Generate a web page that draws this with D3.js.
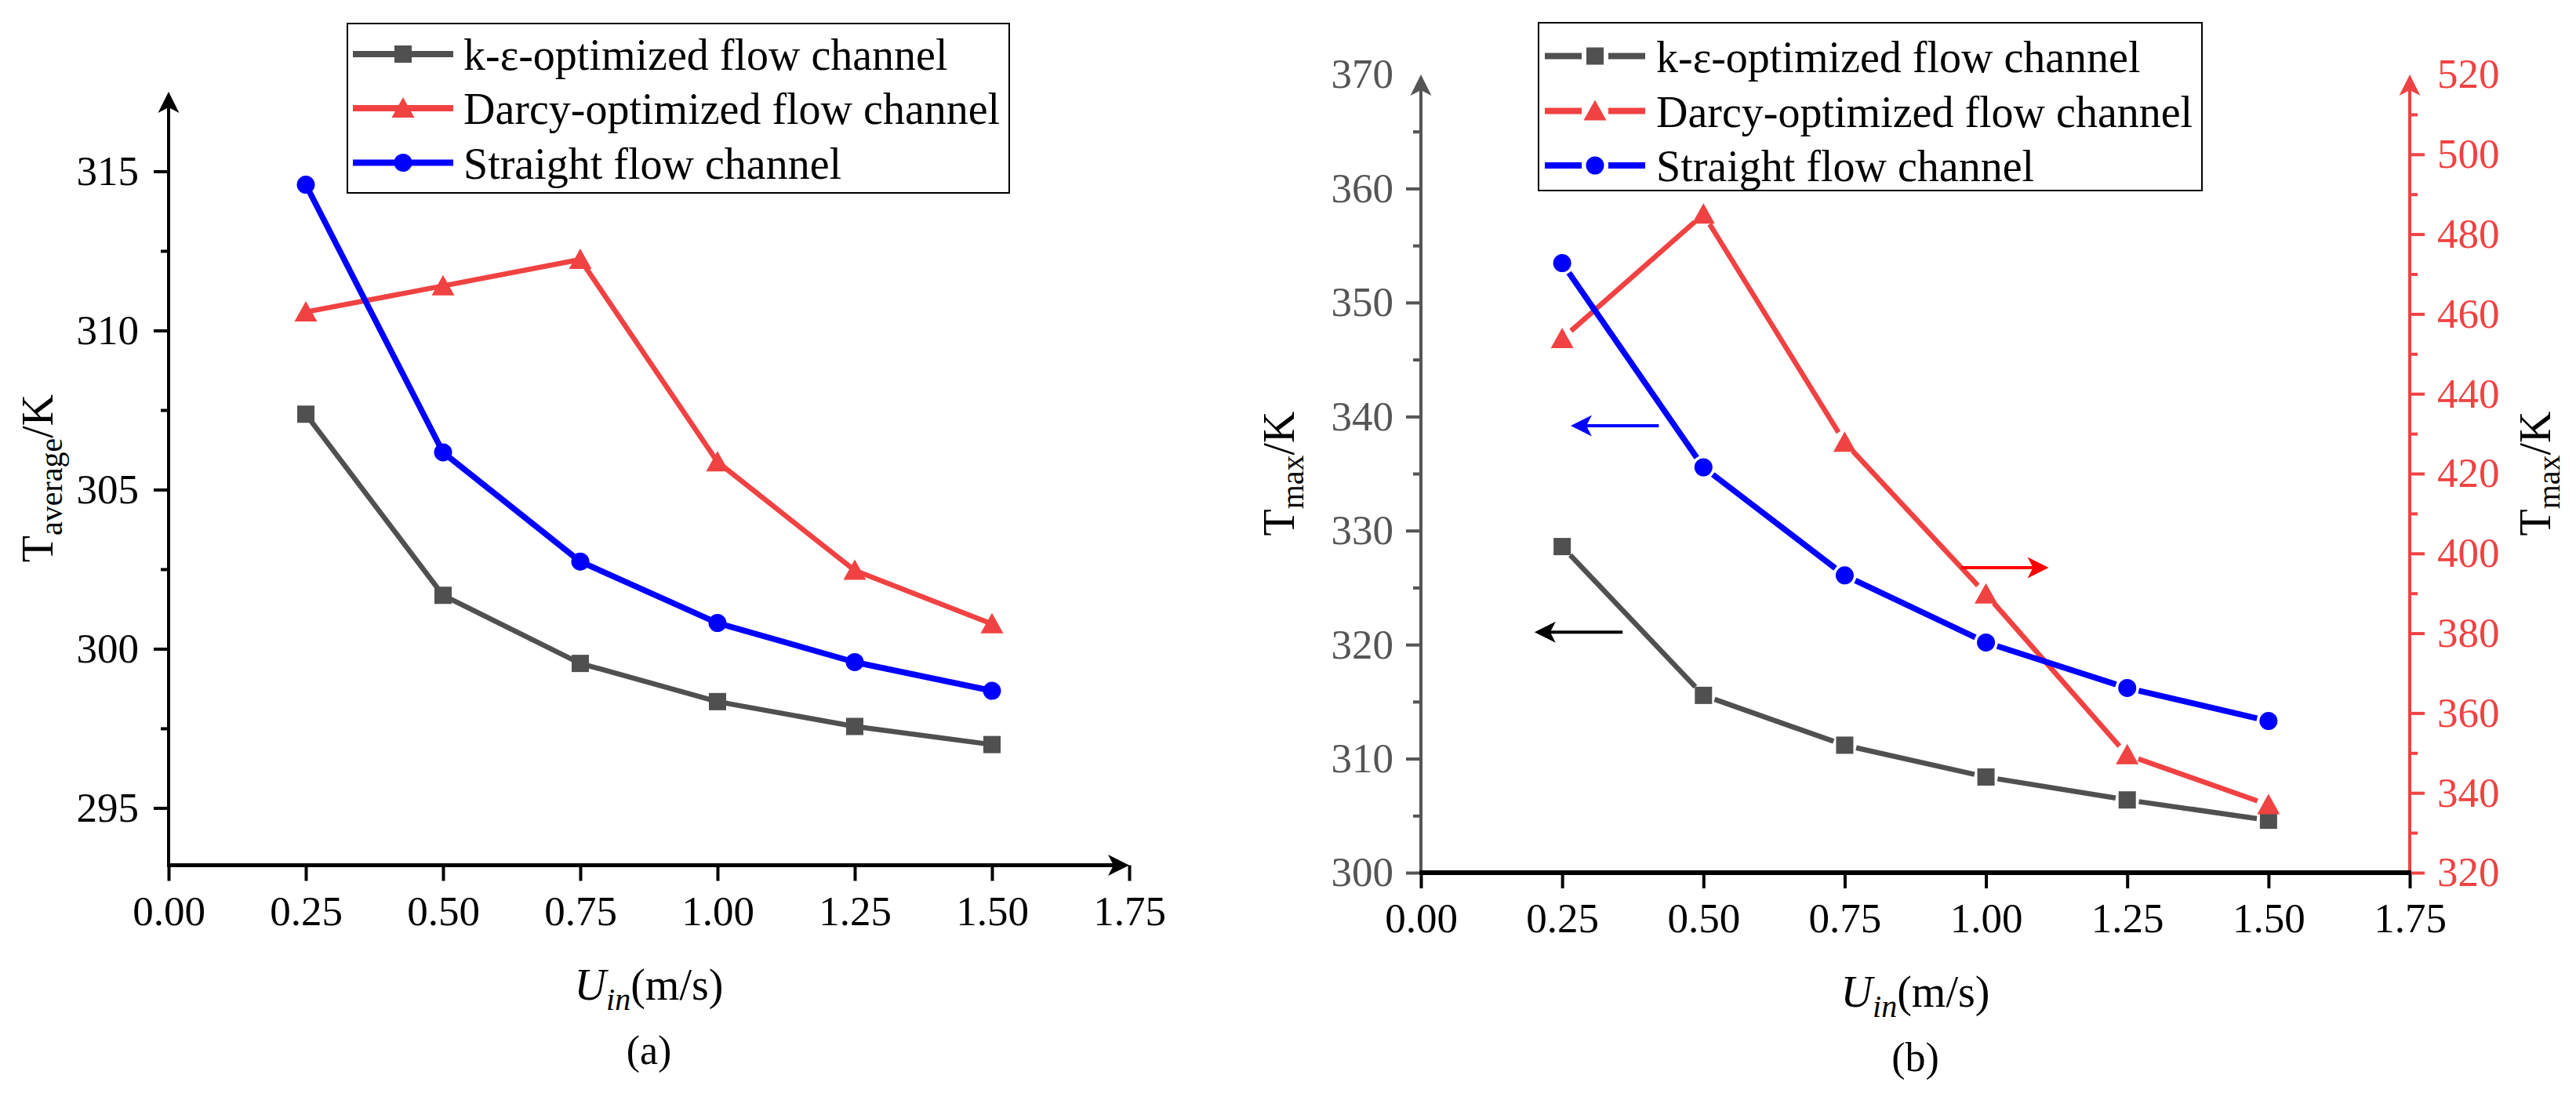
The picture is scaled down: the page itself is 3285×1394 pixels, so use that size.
<!DOCTYPE html>
<html>
<head>
<meta charset="utf-8">
<script src="https://cdn.jsdelivr.net/npm/d3@7"></script>
<style>
  body { margin: 0; background: #fff; }
  svg { display: block; }
  text { font-family: "Liberation Serif", "Times New Roman", serif; }
</style>
</head>
<body>
<div id="chart"></div>
<script>
// inlet velocity (m/s)
const uIn = [0.25, 0.5, 0.75, 1.0, 1.25, 1.5];

// (a) average temperature, K
const avgKe       = [307.37, 301.68, 299.54, 298.34, 297.56, 296.99];
const avgDarcy    = [310.58, 311.40, 312.23, 305.87, 302.46, 300.78];
const avgStraight = [314.58, 306.17, 302.74, 300.81, 299.58, 298.68];

// (b) maximum temperature, K (Darcy on the right axis)
const maxKe       = [328.6, 315.55, 311.18, 308.39, 306.38, 304.6];
const maxDarcy    = [453.8, 485.0, 427.8, 389.8, 349.5, 337.0];
const maxStraight = [353.46, 335.55, 326.07, 320.19, 316.2, 313.3];

const seriesNames = ["k-\u03b5-optimized flow channel", "Darcy-optimized flow channel", "Straight flow channel"];

const xTicks = [0, 0.25, 0.5, 0.75, 1.0, 1.25, 1.5, 1.75];
const avgTicks = [295, 300, 305, 310, 315];
const avgMinor = [297.5, 302.5, 307.5, 312.5];
const maxLeftTicks = [300, 310, 320, 330, 340, 350, 360, 370];
const maxLeftMinor = [305, 315, 325, 335, 345, 355, 365];
const maxRightTicks = [320, 340, 360, 380, 400, 420, 440, 460, 480, 500, 520];
const maxRightMinor = [330, 350, 370, 390, 410, 430, 450, 470, 490, 510];

// pointer arrows in panel (b): [x tail, x tip, y value]
const arrowLeftBlue  = [0.421, 0.265, 339.2];
const arrowLeftBlack = [0.357, 0.201, 321.1];
const arrowRightRed  = [0.956, 1.111, 396.4];

const W = 3285, H = 1394;
const gray = "#505050", red = "#F04242", blue = "#0000FF";
const tickFont = 53, legFont = 56;

const svg = d3.select("#chart").append("svg")
  .attr("width", W).attr("height", H);
svg.append("rect").attr("width", W).attr("height", H).attr("fill", "#fff");

function arrowHead(g, x, y, dir, color) {
  const L = 27, hw = 13.5, n = 7;
  let p;
  if (dir === "up") p = [[x, y], [x - hw, y + L], [x, y + L - n], [x + hw, y + L]];
  else if (dir === "right") p = [[x, y], [x - L, y - hw], [x - L + n, y], [x - L, y + hw]];
  else p = [[x, y], [x + L, y - hw], [x + L - n, y], [x + L, y + hw]];
  g.append("path").attr("d", "M" + p.join("L") + "Z").attr("fill", color);
}

function marker(g, shape, x, y, color) {
  if (shape === "square") {
    g.append("rect").attr("x", x - 11).attr("y", y - 11)
      .attr("width", 22).attr("height", 22).attr("fill", color);
  } else if (shape === "circle") {
    g.append("circle").attr("cx", x).attr("cy", y).attr("r", 11.5).attr("fill", color);
  } else {
    g.append("path")
      .attr("d", `M${x},${y - 14}L${x + 14.5},${y + 12}L${x - 14.5},${y + 12}Z`)
      .attr("fill", color);
  }
}

function drawSeries(g, xs, ys, values, color, shape, width, gap) {
  const pts = uIn.map((u, i) => [xs(u), ys(values[i])]);
  if (!gap) {
    g.append("path").datum(pts)
      .attr("d", d3.line())
      .attr("fill", "none").attr("stroke", color)
      .attr("stroke-width", width).attr("stroke-linejoin", "round");
  } else {
    for (let i = 0; i < pts.length - 1; i++) {
      const [x1, y1] = pts[i], [x2, y2] = pts[i + 1];
      const len = Math.hypot(x2 - x1, y2 - y1);
      const ux = (x2 - x1) / len, uy = (y2 - y1) / len;
      g.append("line")
        .attr("x1", x1 + ux * gap).attr("y1", y1 + uy * gap)
        .attr("x2", x2 - ux * gap).attr("y2", y2 - uy * gap)
        .attr("stroke", color).attr("stroke-width", width);
    }
  }
  pts.forEach(p => marker(g, shape, p[0], p[1], color));
}

function drawLegend(g, x0, y0, w, h, rows, lineX0, lineX1, textX, gapped) {
  g.append("rect").attr("x", x0).attr("y", y0).attr("width", w).attr("height", h)
    .attr("fill", "#fff").attr("stroke", "#000").attr("stroke-width", 2);
  rows.forEach(r => {
    const mx = (lineX0 + lineX1) / 2;
    if (gapped) {
      g.append("line").attr("x1", lineX0).attr("x2", mx - 17).attr("y1", r.y).attr("y2", r.y)
        .attr("stroke", r.color).attr("stroke-width", 8);
      g.append("line").attr("x1", mx + 17).attr("x2", lineX1).attr("y1", r.y).attr("y2", r.y)
        .attr("stroke", r.color).attr("stroke-width", 8);
    } else {
      g.append("line").attr("x1", lineX0).attr("x2", lineX1).attr("y1", r.y).attr("y2", r.y)
        .attr("stroke", r.color).attr("stroke-width", 8);
    }
    marker(g, r.shape, mx, r.y, r.color);
    g.append("text").attr("x", textX).attr("y", r.y).attr("dy", "0.36em")
      .attr("font-size", legFont).attr("fill", "#000").text(r.name);
  });
}

function styleAxis(sel, color, width, fontSize) {
  sel.select(".domain").remove();
  sel.selectAll(".tick line").attr("stroke", color).attr("stroke-width", width);
  sel.selectAll(".tick text").attr("fill", color).attr("font-size", fontSize)
    .attr("font-family", "'Liberation Serif','Times New Roman',serif");
}

function yTitle(g, x, y, sub) {
  const t = g.append("text")
    .attr("transform", `translate(${x},${y}) rotate(-90)`)
    .attr("text-anchor", "middle").attr("font-size", 56).attr("fill", "#000");
  t.append("tspan").text("T");
  t.append("tspan").attr("font-size", 40).attr("dy", 12).text(sub);
  t.append("tspan").attr("dy", -12).text("/K");
}

function xTitle(g, x, y, label) {
  const t = g.append("text").attr("x", x).attr("y", y)
    .attr("text-anchor", "middle").attr("font-size", 56).attr("fill", "#000");
  t.append("tspan").attr("font-style", "italic").text("U");
  t.append("tspan").attr("font-style", "italic").attr("font-size", 40).attr("dy", 13).text("in");
  t.append("tspan").attr("dy", -13).text("(m/s)");
  g.append("text").attr("x", x).attr("y", y + 82).attr("text-anchor", "middle")
    .attr("font-size", 52).attr("fill", "#000").text(label);
}

// ---------------- panel (a) ----------------
const gA = svg.append("g");
const xA = d3.scaleLinear().domain([0, 1.75]).range([215, 1440]);
const yA = d3.scaleLinear().domain([293.2, 317.5]).range([1103.5, 117]);

gA.append("g").attr("transform", `translate(0,${yA(293.2)})`)
  .call(d3.axisBottom(xA).tickValues(xTicks).tickFormat(d3.format(".2f")).tickSize(20).tickPadding(19))
  .call(s => styleAxis(s, "#000", 4, tickFont));
gA.append("g").attr("transform", `translate(${xA(0)},0)`)
  .call(d3.axisLeft(yA).tickValues(avgTicks).tickSize(19).tickPadding(19))
  .call(s => styleAxis(s, "#000", 4, tickFont));
gA.append("g").attr("transform", `translate(${xA(0)},0)`)
  .call(d3.axisLeft(yA).tickValues(avgMinor).tickFormat("").tickSize(10))
  .call(s => styleAxis(s, "#000", 4, tickFont));
gA.append("line").attr("x1", xA(0)).attr("x2", xA(0))
  .attr("y1", yA(293.2) + 2).attr("y2", yA(317.5) + 20)
  .attr("stroke", "#000").attr("stroke-width", 4);
arrowHead(gA, xA(0), yA(317.5), "up", "#000");
gA.append("line").attr("x1", xA(0) - 2).attr("x2", xA(1.75) - 20)
  .attr("y1", yA(293.2)).attr("y2", yA(293.2))
  .attr("stroke", "#000").attr("stroke-width", 5);
arrowHead(gA, xA(1.75), yA(293.2), "right", "#000");

drawSeries(gA, xA, yA, avgKe, gray, "square", 6.5, 0);
drawSeries(gA, xA, yA, avgDarcy, red, "triangle", 6.5, 0);
drawSeries(gA, xA, yA, avgStraight, blue, "circle", 7.5, 0);

drawLegend(gA, 443, 30, 844, 216, [
  { name: seriesNames[0], color: gray, shape: "square", y: 69 },
  { name: seriesNames[1], color: red, shape: "triangle", y: 138 },
  { name: seriesNames[2], color: blue, shape: "circle", y: 207.5 }
], 450, 578, 591, false);

yTitle(gA, 67, 610, "average");
xTitle(gA, xA(0.875), 1275, "(a)");

// ---------------- panel (b) ----------------
const gB = svg.append("g");
const xB = d3.scaleLinear().domain([0, 1.75]).range([1812, 3073]);
const yL = d3.scaleLinear().domain([300, 370]).range([1113, 95]);
const yR = d3.scaleLinear().domain([320, 520]).range([1113, 95]);

gB.append("g").attr("transform", `translate(0,${yL(300)})`)
  .call(d3.axisBottom(xB).tickValues(xTicks).tickFormat(d3.format(".2f")).tickSize(20).tickPadding(18))
  .call(s => styleAxis(s, "#000", 4, tickFont));
gB.append("g").attr("transform", `translate(${xB(0)},0)`)
  .call(d3.axisLeft(yL).tickValues(maxLeftTicks).tickSize(19).tickPadding(16))
  .call(s => styleAxis(s, "#555", 4, tickFont));
gB.append("g").attr("transform", `translate(${xB(0)},0)`)
  .call(d3.axisLeft(yL).tickValues(maxLeftMinor).tickFormat("").tickSize(10))
  .call(s => styleAxis(s, "#555", 4, tickFont));
gB.append("g").attr("transform", `translate(${xB(1.75)},0)`)
  .call(d3.axisRight(yR).tickValues(maxRightTicks).tickSize(19).tickPadding(16))
  .call(s => styleAxis(s, red, 4, tickFont));
gB.append("g").attr("transform", `translate(${xB(1.75)},0)`)
  .call(d3.axisRight(yR).tickValues(maxRightMinor).tickFormat("").tickSize(10))
  .call(s => styleAxis(s, red, 4, tickFont));
// hide tick marks that sit on the arrow tips
gB.selectAll(".tick").filter(d => d === 370 || d === 520).select("line").remove();

gB.append("line").attr("x1", xB(0)).attr("x2", xB(0))
  .attr("y1", yL(300)).attr("y2", yL(370) + 20)
  .attr("stroke", "#555").attr("stroke-width", 4);
arrowHead(gB, xB(0), yL(370), "up", "#555");
gB.append("line").attr("x1", xB(1.75)).attr("x2", xB(1.75))
  .attr("y1", yR(320)).attr("y2", yR(520) + 20)
  .attr("stroke", red).attr("stroke-width", 4);
arrowHead(gB, xB(1.75), yR(520), "up", red);
gB.append("line").attr("x1", xB(0) - 2).attr("x2", xB(1.75) + 2)
  .attr("y1", yL(300)).attr("y2", yL(300))
  .attr("stroke", "#000").attr("stroke-width", 6);

drawSeries(gB, xB, yL, maxKe, gray, "square", 6.5, 15);
drawSeries(gB, xB, yR, maxDarcy, red, "triangle", 6.5, 15);
drawSeries(gB, xB, yL, maxStraight, blue, "circle", 7.5, 15);

function pointer(g, a, ys, color) {
  const x1 = xB(a[0]), x2 = xB(a[1]), y = ys(a[2]);
  const dir = x2 > x1 ? "right" : "left";
  g.append("line").attr("x1", x1).attr("x2", x2 + (dir === "right" ? -20 : 20))
    .attr("y1", y).attr("y2", y).attr("stroke", color).attr("stroke-width", 4);
  arrowHead(g, x2, y, dir, color);
}
pointer(gB, arrowLeftBlue, yL, blue);
pointer(gB, arrowLeftBlack, yL, "#000");
pointer(gB, arrowRightRed, yR, "#FF0000");

drawLegend(gB, 1962, 29, 846, 214, [
  { name: seriesNames[0], color: gray, shape: "square", y: 71.5 },
  { name: seriesNames[1], color: red, shape: "triangle", y: 141.5 },
  { name: seriesNames[2], color: blue, shape: "circle", y: 211 }
], 1970, 2098, 2112, true);

yTitle(gB, 1650, 604, "max");
yTitle(gB, 3252, 604, "max");
xTitle(gB, xB(0.875), 1284, "(b)");
</script>
</body>
</html>
